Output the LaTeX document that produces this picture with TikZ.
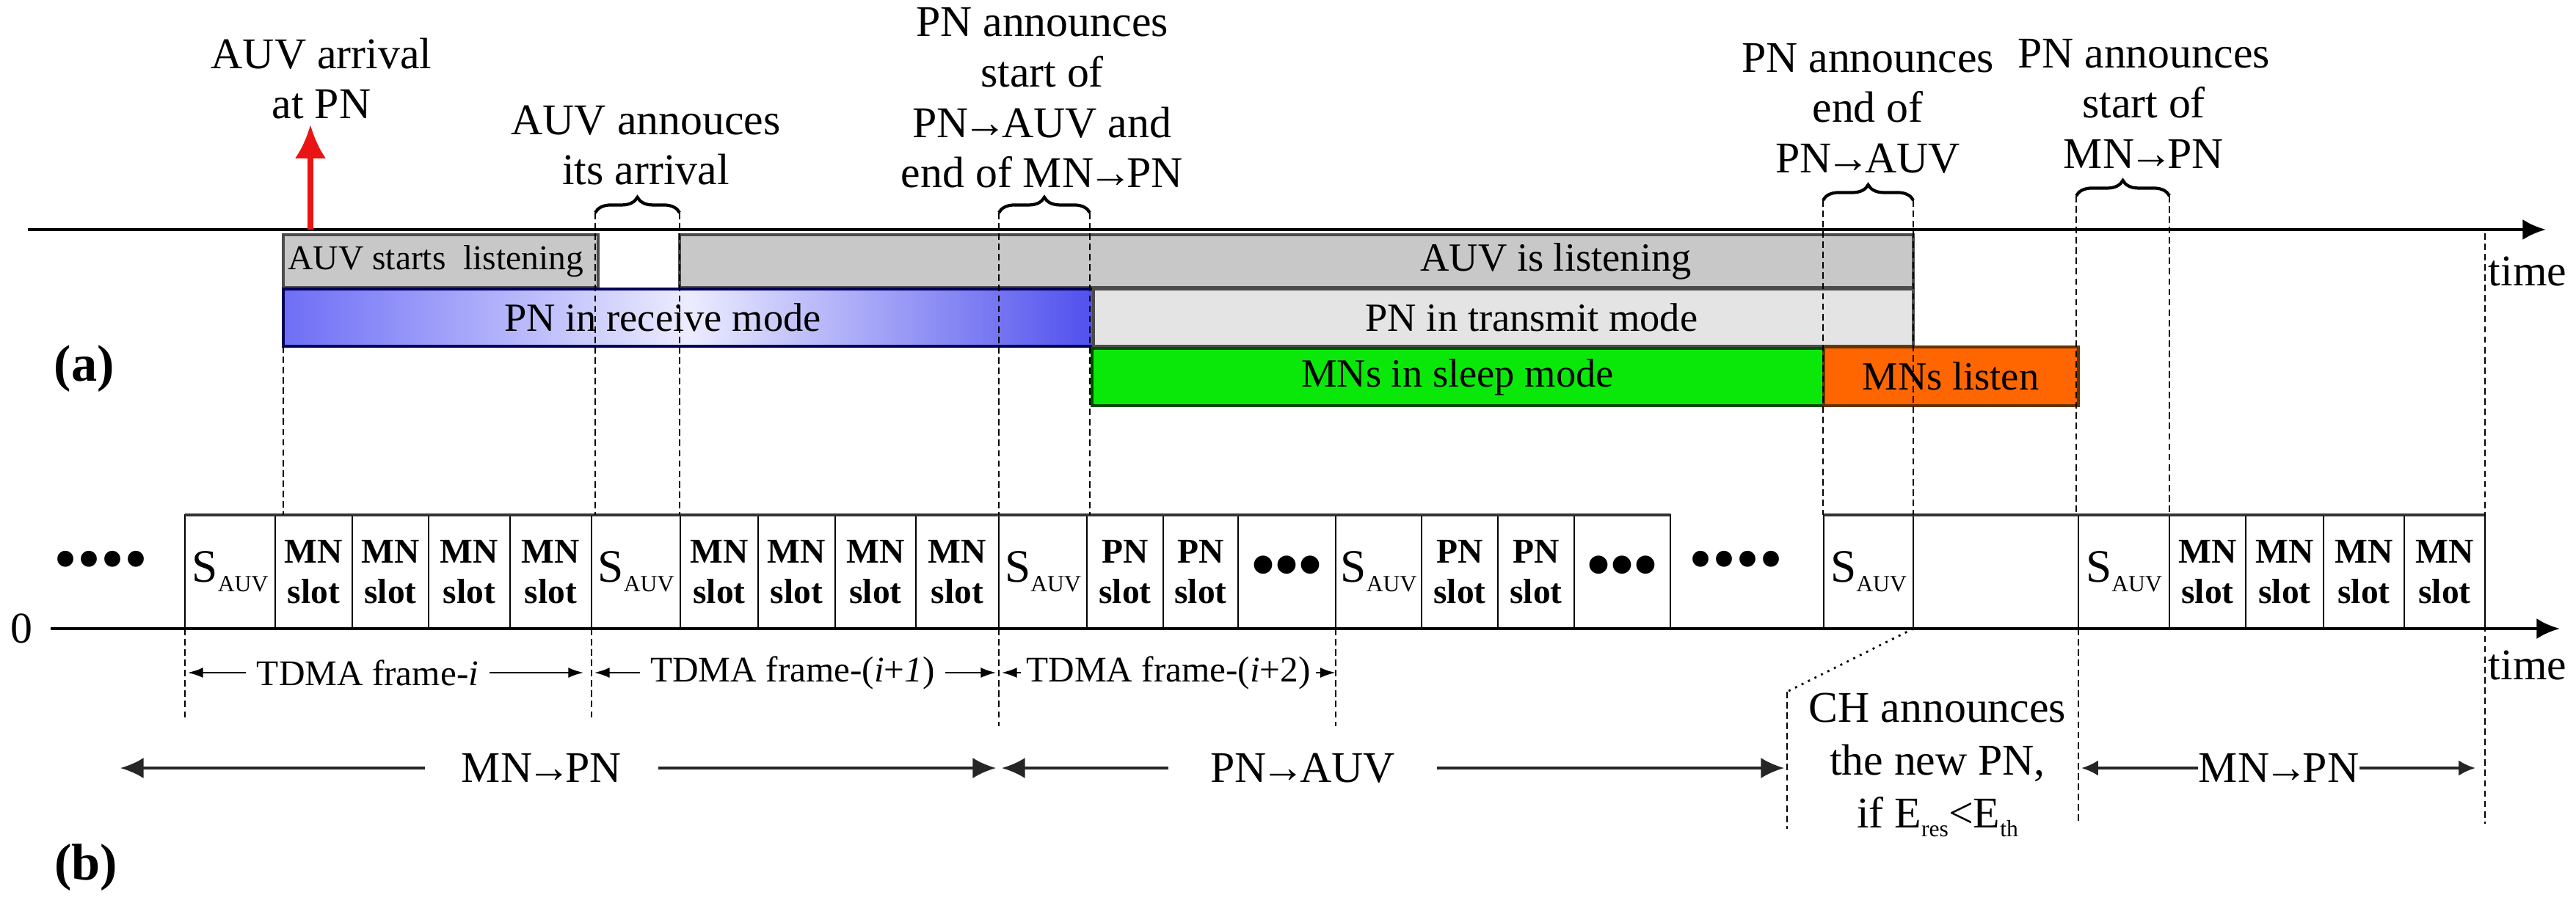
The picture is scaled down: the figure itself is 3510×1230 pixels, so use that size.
\documentclass[tikz,border=0pt]{standalone}
\usepackage{fontspec}
\setmainfont{Liberation Serif}
\usetikzlibrary{arrows.meta,decorations.pathreplacing}

\definecolor{listengray}{RGB}{200,200,200}
\definecolor{txgray}{RGB}{228,228,228}
\definecolor{rxblue}{RGB}{110,110,246}
\definecolor{rxblueend}{RGB}{80,80,238}
\definecolor{rxlight}{RGB}{236,236,255}
\definecolor{sleepgreen}{RGB}{10,232,10}
\definecolor{listenorange}{RGB}{255,102,0}
\definecolor{arrivalred}{RGB}{235,20,20}

\newcommand{\lowtxt}[1]{\raisebox{-0.45ex}{\fontsize{9}{9}\selectfont #1}}
\newcommand{\sauv}{\normalfont\fontsize{18}{18}\selectfont S\lowtxt{AUV}}
\newcommand{\mnslot}{MN\\slot}
\newcommand{\pnslot}{PN\\slot}
\newcommand{\slotdots}{\fontsize{26}{26}\selectfont •••}
\newcommand{\toarr}{\kern-0.12em→\kern-0.12em}

\begin{document}
\begin{tikzpicture}[x=0.01cm, y=0.01cm,
    annot/.style={font=\fontsize{17}{19.5}\selectfont, align=center, inner sep=0pt},
    bartext/.style={font=\fontsize{15.5}{18}\selectfont, inner sep=0pt},
    panel/.style={font=\fontsize{20}{24}\selectfont\bfseries, inner sep=0pt},
    slotcell/.style={draw, line width=0.6pt, inner sep=0pt, outer sep=0pt,
      minimum height=1.55cm, align=center,
      font=\fontsize{13.5}{15.5}\selectfont\bfseries},
    guide/.style={line width=0.6pt, dash pattern=on 2.5pt off 1.5pt},
    timeaxis/.style={line width=1.4pt, -{Latex[length=9pt,width=8pt]}},
    span/.style={decorate, decoration={brace, amplitude=6pt}, line width=1.2pt},
    framelabel/.style={font=\fontsize{14}{16}\selectfont, inner ysep=0pt, inner xsep=4pt},
    framearrow/.style={line width=0.8pt, -{Latex[length=6pt,width=4pt]}},
    phasearrow/.style={line width=1pt, black!85, -{Latex[length=9pt,width=8pt]}},
    dots/.style={font=\fontsize{26}{26}\selectfont, inner sep=0pt}]

\useasboundingbox (0,0) rectangle (3510,-1230);

% (a) the time line
\draw[timeaxis] (38,-313) -- (3469,-313);
\node[annot] (timea) at (3444,-370) {time};
\node[panel] (panela) at (115,-503) {(a)};

% bars
\filldraw[fill=listengray, draw=black!70, line width=0.9pt] (386,-320) rectangle (815,-392);
\filldraw[fill=listengray, draw=black!70, line width=0.9pt] (926,-320) rectangle (2607,-392);
\shadedraw[left color=rxblue, right color=rxblueend, middle color=rxlight,
  draw=blue!35!black, line width=0.9pt] (386,-394) rectangle (1490,-472);
\filldraw[fill=txgray, draw=black!70, line width=0.9pt] (1490,-394) rectangle (2607,-472);
\filldraw[fill=sleepgreen, draw=green!30!black, line width=0.9pt] (1488,-475) rectangle (2485,-553);
\filldraw[fill=listenorange, draw=orange!40!black, line width=0.9pt] (2485,-473) rectangle (2832,-553);

\node[bartext, anchor=west, font=\fontsize{13.5}{16}\selectfont] (startlisten) at (392,-356) {AUV starts\ \ listening};
\node[bartext] (listening) at (2120,-356) {AUV is listening};
\node[bartext] (receive) at (903,-433) {PN in receive mode};
\node[bartext] (transmit) at (2087,-433) {PN in transmit mode};
\node[bartext] (sleep) at (1986,-514) {MNs in sleep mode};
\node[bartext] (listen) at (2658,-513) {MNs listen};

% slots
\foreach \xa/\xb/\lbl [count=\i] in {
    252/375/\sauv, 375/480/\mnslot, 480/584/\mnslot, 584/695/\mnslot, 695/806/\mnslot,
    806/927/\sauv, 927/1033/\mnslot, 1033/1138/\mnslot, 1138/1248/\mnslot, 1248/1361/\mnslot,
    1361/1481/\sauv, 1481/1585/\pnslot, 1585/1687/\pnslot, 1687/1820/\slotdots,
    1820/1937/\sauv, 1937/2041/\pnslot, 2041/2145/\pnslot, 2145/2276/\slotdots,
    2485/2607/\sauv, 2607/2832/\relax, 2832/2956/\sauv, 2956/3060/\mnslot,
    3060/3166/\mnslot, 3166/3276/\mnslot, 3276/3386/\mnslot}
  \node[slotcell, minimum width={(\xb-\xa)*0.01cm}, anchor=south west] (slot\i) at (\xa,-857) {\lbl};
\draw[line width=1pt, black!80] (slot1.north west) -- (slot18.north east);
\draw[line width=1pt, black!80] (slot19.north west) -- (slot25.north east);

\node[dots] (dotsl) at (138,-772) {••••};
\node[dots] (dotsr) at (2365,-772) {••••};

% events above the time line
\node[annot, anchor=south] (arrival) at (438,-163) {AUV arrival\\at PN};
\node[annot, anchor=south] (announce) at (880,-253) {AUV annouces\\its arrival};
\node[annot, anchor=south] (switchtx) at (1420,-257) {PN announces\\start of\\PN\toarr AUV and\\end of MN\toarr PN};
\node[annot, anchor=south] (endtx) at (2545,-237) {PN announces\\end of\\PN\toarr AUV};
\node[annot, anchor=south] (startrx) at (2921,-230) {PN announces\\start of\\MN\toarr PN};

\coordinate (arrbase) at (423,-313);
\draw[arrivalred, line width=2pt, -{Latex[length=13pt,width=12pt]}, shorten >=2pt]
  (arrbase) -- (arrbase |- arrival.south);

\coordinate (brA1) at (811,-290);
\coordinate (brA2) at (926,-290);
\coordinate (brB1) at (1361,-290);
\coordinate (brB2) at (1485,-290);
\coordinate (brC1) at (2484,-273);
\coordinate (brC2) at (2607,-273);
\coordinate (brD1) at (2829,-267);
\coordinate (brD2) at (2956,-267);
\draw[span] (brA1) -- (brA2);
\draw[span] (brB1) -- (brB2);
\draw[span] (brC1) -- (brC2);
\draw[span] (brD1) -- (brD2);

% guide lines
\coordinate (rxstart) at (386,-472);
\draw[guide] (rxstart) -- (rxstart |- slot2.north);
\foreach \c in {brA1, brA2, brB1, brB2, brC1, brC2, brD1, brD2}
  \draw[guide] (\c) -- (\c |- slot1.north);
\draw[guide] (3386,-318) -- (3386,-1123);

% (b) the TDMA frames
\coordinate (origin) at (69,-857);
\draw[timeaxis] (origin) -- (3488,-857);
\node[annot, anchor=east] (zero) at (45,-857) {0};
\node[annot] (timeb) at (3444,-907) {time};
\node[panel] (panelb) at (117,-1183) {(b)};

\draw[guide] (slot1.south west) -- (slot1.south west |- 0,-980);
\draw[guide] (slot6.south west) -- (slot6.south west |- 0,-980);
\draw[guide] (slot11.south west) -- (slot11.south west |- 0,-990);
\draw[guide] (slot15.south west) -- (slot15.south west |- 0,-990);
\draw[guide] (slot21.south west) -- (slot21.south west |- 0,-1123);

\coordinate (fr0) at (slot1.south west |- 0,-917);
\coordinate (fr1) at (slot6.south west |- 0,-917);
\coordinate (fr2) at (slot11.south west |- 0,-917);
\coordinate (fr3) at (slot15.south west |- 0,-917);
\node[framelabel] (framei) at (501,-917) {TDMA frame-\textit{i}};
\node[framelabel] (frameii) at (1080,-917) {TDMA frame-(\textit{i}+\textit{1})};
\node[framelabel, inner xsep=2pt] (frameiii) at (1592,-917) {TDMA frame-(\textit{i}+2)};
\draw[framearrow, shorten >=1pt] (framei.west) -- (fr0);
\draw[framearrow, shorten >=3pt] (framei.east) -- (fr1);
\draw[framearrow, shorten >=1pt] (frameii.west) -- (fr1);
\draw[framearrow, shorten >=1pt] (frameii.east) -- (fr2);
\draw[framearrow, shorten >=1pt] (frameiii.west) -- (fr2);
\draw[framearrow, shorten >=0pt] (frameiii.east) -- (fr3);

% phases
\coordinate (ph0) at (164,-1047);
\coordinate (ph1) at (1357,-1047);
\coordinate (ph2) at (1365,-1047);
\coordinate (ph3) at (2431,-1047);
\coordinate (ph4) at (2836,-1047);
\coordinate (ph5) at (3373,-1047);
\node[annot, inner xsep=14pt] (mnpna) at (738,-1047) {MN\toarr PN};
\node[annot, inner xsep=16pt] (pnauv) at (1775,-1047) {PN\toarr AUV};
\node[annot] (mnpnb) at (3105,-1047) {MN\toarr PN};
\draw[phasearrow] (mnpna.west) -- (ph0);
\draw[phasearrow] (mnpna.east) -- (ph1);
\draw[phasearrow] (pnauv.west) -- (ph2);
\draw[phasearrow] (pnauv.east) -- (ph3);
\draw[phasearrow, -{Latex[length=6.5pt,width=6pt]}] (mnpnb.west) -- (ph4);
\draw[phasearrow, -{Latex[length=6.5pt,width=6pt]}] (mnpnb.east) -- (ph5);

% new PN election
\node[annot, font=\fontsize{17}{20.5}\selectfont] (chnote) at (2640,-1043)
  {CH announces\\the new PN,\\if E\lowtxt{res}<E\lowtxt{th}};
\coordinate (chtop) at (2435,-943);
\draw[line width=0.8pt, dotted] (slot19.south east) -- (chtop);
\draw[guide] (chtop) -- (chtop |- 0,-1130);

\end{tikzpicture}
\end{document}
